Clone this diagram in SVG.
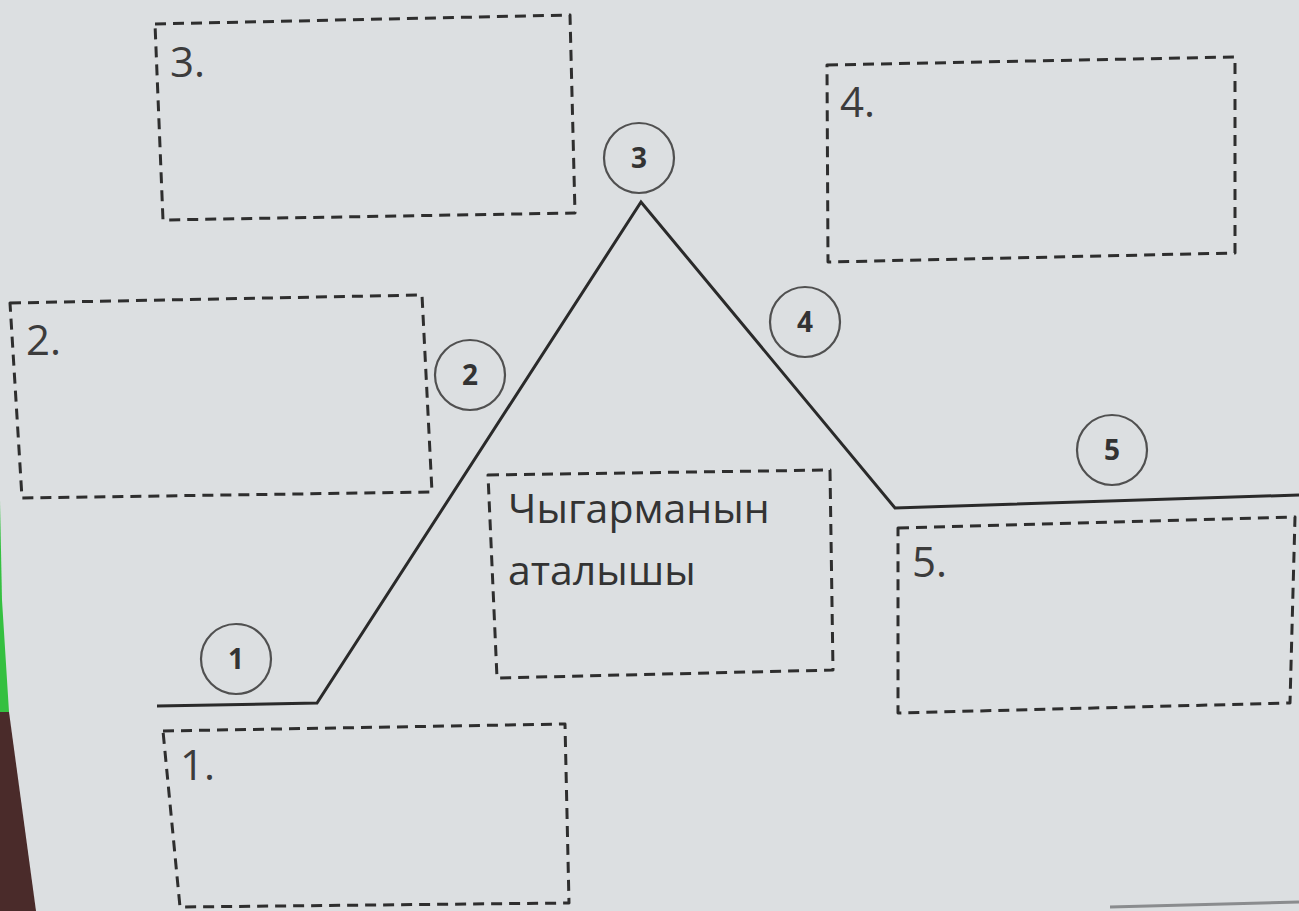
<svg xmlns="http://www.w3.org/2000/svg" width="1299" height="911" viewBox="0 0 1299 911">
<style>
.box{fill:none;stroke:#2e2e2e;stroke-width:3;stroke-dasharray:11 7;stroke-linejoin:round}
.lbl{font-family:"Open Sans","Noto Sans","Liberation Sans",sans-serif;font-size:42px;fill:#3c3c3c}
.ttl{font-family:"Open Sans","Noto Sans","Liberation Sans",sans-serif;font-size:41px;fill:#333}
.circ{fill:none;stroke:#505050;stroke-width:2.2}
.num{font-family:"Open Sans","Noto Sans","Liberation Sans",sans-serif;font-size:28px;font-weight:bold;fill:#333;text-anchor:middle}
.plot{fill:none;stroke:#2a2a2a;stroke-width:3;stroke-linejoin:miter}
</style>
<rect x="0" y="0" width="1299" height="911" fill="#4a2b2a"/>
<polygon points="0,500 9,500 12,712 0,712" fill="#35c040"/>
<polygon points="0,0 1299,0 1299,911 36,911 9,712 2,600 0,500" fill="#dcdfe1"/>
<line x1="1110" y1="907" x2="1299" y2="902" stroke="#8a8c8e" stroke-width="3"/>
<g id="connectors">
<polyline class="plot" points="157,706 317,703 641,202 895,508 1299,495"/>
</g>
<g id="box3"><polygon class="box" points="155,24 570,15 575,213 163,220"/><text class="lbl" x="170" y="77">3.</text></g>
<g id="box2"><polygon class="box" points="10,303 422,295 432,492 22,498"/><text class="lbl" x="26" y="355">2.</text></g>
<g id="box4"><polygon class="box" points="827,65 1235,57 1235,253 828,262"/><text class="lbl" x="840" y="117">4.</text></g>
<g id="box5"><polygon class="box" points="898,528 1295,517 1290,703 898,713"/><text class="lbl" x="912" y="577">5.</text></g>
<g id="box1"><polygon class="box" points="163,731 565,724 569,903 180,907"/><text class="lbl" x="180" y="780">1.</text></g>
<g id="title"><polygon class="box" points="488,475 830,470 833,670 497,678"/><text class="ttl" x="508" y="523">Чыгарманын</text><text class="ttl" x="508" y="585">аталышы</text></g>
<g id="c1"><circle class="circ" cx="236" cy="659" r="35"/><text class="num" x="236" y="669">1</text></g>
<g id="c2"><circle class="circ" cx="470" cy="375" r="35"/><text class="num" x="470" y="385">2</text></g>
<g id="c3"><circle class="circ" cx="639" cy="158" r="35"/><text class="num" x="639" y="168">3</text></g>
<g id="c4"><circle class="circ" cx="805" cy="322" r="35"/><text class="num" x="805" y="332">4</text></g>
<g id="c5"><circle class="circ" cx="1112" cy="450" r="35"/><text class="num" x="1112" y="460">5</text></g>
</svg>
